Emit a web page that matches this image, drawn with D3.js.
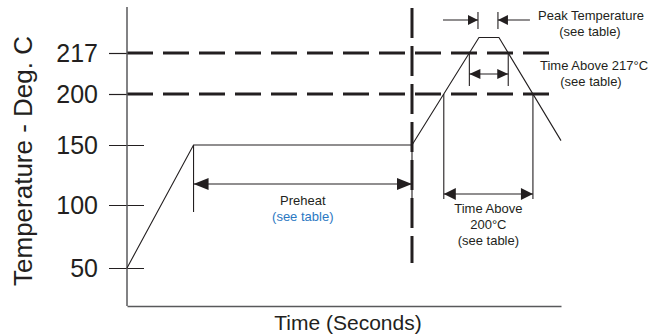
<!DOCTYPE html>
<html>
<head>
<meta charset="utf-8">
<script src="https://cdn.jsdelivr.net/npm/d3@7"></script>
<style>
	body { margin: 0; background: #fff; }
	svg text { font-family: Arial, "Liberation Sans", Helvetica, sans-serif; fill: #231f20; }
</style>
</head>
<body>
<div id="chart"></div>
<script>

// temperature ticks (deg C) - schematic, spacing is not linear
var tempTicks = [50, 100, 150, 200, 217];
// dashed reference levels
var refLevels = [217, 200];
// reflow profile: time (s) and temperature (deg C)
var profileTime = [0, 46, 197, 243.3, 257.1, 300];
var profileTemp = [50, 150, 150, 223.4, 223.4, 154.3];

var width = 648, height = 335;

var svg = d3.select("#chart").append("svg")
	.attr("width", width)
	.attr("height", height);

var x = d3.scaleLinear().domain([0, 300]).range([127, 561]);
var y = d3.scaleLinear().domain(tempTicks).range([268, 205, 145, 94, 53]);

var ink = "#231f20";

// find where the drawn profile crosses a temperature level (pixel space)
function crossings(level){
	var yl = y(level), out = [];
	for (var i = 0; i < profileTime.length - 1; i++){
		var x0 = x(profileTime[i]), x1 = x(profileTime[i + 1]);
		var y0 = y(profileTemp[i]), y1 = y(profileTemp[i + 1]);
		if ((y0 - yl) * (y1 - yl) < 0){
			var t = (yl - y0) / (y1 - y0);
			out.push(x0 + t * (x1 - x0));
		}
	}
	return out;
}

// dashed reference lines
svg.selectAll(".ref")
	.data(refLevels)
	.enter()
	.append("line")
	.attr("class", "ref")
	.attr("x1", x(0))
	.attr("x2", 550)
	.attr("y1", function(d){ return y(d); })
	.attr("y2", function(d){ return y(d); })
	.attr("stroke", ink)
	.attr("stroke-width", 3)
	.attr("stroke-dasharray", "26,10");

// dashed vertical at end of preheat
svg.append("line")
	.attr("x1", x(profileTime[2]))
	.attr("x2", x(profileTime[2]))
	.attr("y1", 8)
	.attr("y2", 263)
	.attr("stroke", ink)
	.attr("stroke-width", 3)
	.attr("stroke-dasharray", "30,8");

// y axis
var yAxis = d3.axisLeft(y)
	.tickValues(tempTicks)
	.tickSize(-17)
	.tickPadding(29)
	.tickFormat(d3.format("d"));

var yG = svg.append("g")
	.attr("transform", "translate(" + x(0) + ",0)")
	.call(yAxis);

yG.select(".domain").remove();
yG.selectAll(".tick line")
	.attr("x1", -18)
	.attr("x2", function(d){ return refLevels.indexOf(d) >= 0 ? 0 : 17; })
	.attr("stroke", ink)
	.attr("stroke-width", 1.2);
yG.selectAll(".tick text")
	.attr("font-size", 25)
	.attr("fill", ink)
	.attr("dy", "0.34em");

svg.append("line")
	.attr("x1", x(0)).attr("x2", x(0))
	.attr("y1", 7).attr("y2", 306)
	.attr("stroke", "#58595b")
	.attr("stroke-width", 1.5);

// x axis (no ticks)
var xG = svg.append("g")
	.attr("transform", "translate(0,306)")
	.call(d3.axisBottom(x).tickValues([]).tickSizeOuter(0));
xG.select(".domain").attr("stroke", "#58595b").attr("stroke-width", 1.5);

// axis titles
svg.append("text")
	.text("Temperature - Deg. C")
	.attr("transform", "translate(32,161) rotate(-90)")
	.attr("text-anchor", "middle")
	.attr("font-size", 26);

svg.append("text")
	.text("Time (Seconds)")
	.attr("x", 348)
	.attr("y", 330)
	.attr("text-anchor", "middle")
	.attr("font-size", 21);

// profile line
var profile = profileTime.map(function(t, i){ return [t, profileTemp[i]]; });
svg.append("path")
	.datum(profile)
	.attr("d", d3.line().x(function(d){ return x(d[0]); }).y(function(d){ return y(d[1]); }))
	.attr("fill", "none")
	.attr("stroke", ink)
	.attr("stroke-width", 1.1);

// helpers for the dimension arrows
function vline(xp, y1, y2){
	svg.append("line")
		.attr("x1", xp).attr("x2", xp)
		.attr("y1", y1).attr("y2", y2)
		.attr("stroke", ink)
		.attr("stroke-width", 1.1);
}

function head(xp, yp, dir, len, half){
	// dir = 1 points right, -1 points left
	svg.append("path")
		.attr("d", "M" + xp + "," + yp + "L" + (xp - dir * len) + "," + (yp - half) + "L" + (xp - dir * len) + "," + (yp + half) + "Z")
		.attr("fill", ink);
}

function dimension(xa, xb, yp, len, half){
	svg.append("line")
		.attr("x1", xa).attr("x2", xb)
		.attr("y1", yp).attr("y2", yp)
		.attr("stroke", ink)
		.attr("stroke-width", 1.1);
	head(xa, yp, -1, len, half);
	head(xb, yp, 1, len, half);
}

function label(lines, xp, yp, anchor, colors){
	lines.forEach(function(l, i){
		svg.append("text")
			.text(l)
			.attr("x", xp)
			.attr("y", yp + i * 16)
			.attr("text-anchor", anchor)
			.attr("font-size", 13)
			.style("fill", colors ? colors[i] : ink);
	});
}

// preheat
var preA = x(profileTime[1]), preB = x(profileTime[2]);
vline(preA, y(150), 212);
vline(preB, y(150), 212);
dimension(preA, preB, 184, 15, 6);
label(["Preheat", "(see table)"], (preA + preB) / 2, 205, "middle", [ink, "#2b78c2"]);

// time above 200
var c200 = crossings(200);
vline(c200[0], y(200), 199);
vline(c200[1], y(200), 199);
dimension(c200[0], c200[1], 194, 12, 6);
label(["Time Above", "200°C", "(see table)"], (c200[0] + c200[1]) / 2, 213, "middle");

// time above 217
var c217 = crossings(217);
vline(c217[0], y(217), 86);
vline(c217[1], y(217), 86);
dimension(c217[0], c217[1], 74, 11, 5);
svg.append("text").text("Time Above 217°C")
	.attr("x", 540).attr("y", 70).attr("font-size", 13);
svg.append("text").text("(see table)")
	.attr("x", 591).attr("y", 86).attr("text-anchor", "middle").attr("font-size", 13);

// peak temperature
var pkA = x(profileTime[3]), pkB = x(profileTime[4]);
vline(pkA - 1, 12, 29);
vline(pkB - 1, 12, 29);
svg.append("line").attr("x1", pkA - 36).attr("x2", pkA - 1).attr("y1", 20).attr("y2", 20)
	.attr("stroke", ink).attr("stroke-width", 1.1);
head(pkA - 1, 20, 1, 10, 5);
svg.append("line").attr("x1", pkB - 1).attr("x2", pkB + 31).attr("y1", 20).attr("y2", 20)
	.attr("stroke", ink).attr("stroke-width", 1.1);
head(pkB - 1, 20, -1, 10, 5);
svg.append("text").text("Peak Temperature")
	.attr("x", 538).attr("y", 20).attr("font-size", 13);
svg.append("text").text("(see table)")
	.attr("x", 590).attr("y", 36).attr("text-anchor", "middle").attr("font-size", 13);

</script>
</body>
</html>
